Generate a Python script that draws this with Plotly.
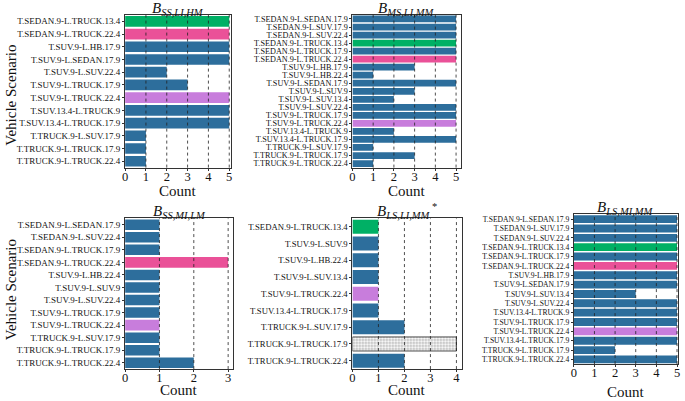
import plotly.graph_objects as go

# ---------------- data ----------------
p1_labels = ["T.SEDAN.9-L.TRUCK.13.4", "T.SEDAN.9-L.TRUCK.22.4", "T.SUV.9-L.HB.17.9",
             "T.SUV.9-L.SEDAN.17.9", "T.SUV.9-L.SUV.22.4", "T.SUV.9-L.TRUCK.17.9",
             "T.SUV.9-L.TRUCK.22.4", "T.SUV.13.4-L.TRUCK.9", "T.SUV.13.4-L.TRUCK.17.9",
             "T.TRUCK.9-L.SUV.17.9", "T.TRUCK.9-L.TRUCK.17.9", "T.TRUCK.9-L.TRUCK.22.4"]
p1_counts = [5, 5, 5, 5, 2, 3, 5, 5, 5, 1, 1, 1]

p2_labels = ["T.SEDAN.9-L.SEDAN.17.9", "T.SEDAN.9-L.SUV.17.9", "T.SEDAN.9-L.SUV.22.4",
             "T.SEDAN.9-L.TRUCK.13.4", "T.SEDAN.9-L.TRUCK.17.9", "T.SEDAN.9-L.TRUCK.22.4",
             "T.SUV.9-L.HB.17.9", "T.SUV.9-L.HB.22.4", "T.SUV.9-L.SEDAN.17.9",
             "T.SUV.9-L.SUV.9", "T.SUV.9-L.SUV.13.4", "T.SUV.9-L.SUV.22.4",
             "T.SUV.9-L.TRUCK.17.9", "T.SUV.9-L.TRUCK.22.4", "T.SUV.13.4-L.TRUCK.9",
             "T.SUV.13.4-L.TRUCK.17.9", "T.TRUCK.9-L.SUV.17.9", "T.TRUCK.9-L.TRUCK.17.9",
             "T.TRUCK.9-L.TRUCK.22.4"]
p2_counts = [5, 5, 5, 5, 5, 5, 3, 1, 5, 3, 2, 5, 5, 5, 2, 5, 1, 3, 1]

p3_labels = ["T.SEDAN.9-L.SEDAN.17.9", "T.SEDAN.9-L.SUV.22.4", "T.SEDAN.9-L.TRUCK.17.9",
             "T.SEDAN.9-L.TRUCK.22.4", "T.SUV.9-L.HB.22.4", "T.SUV.9-L.SUV.9",
             "T.SUV.9-L.SUV.22.4", "T.SUV.9-L.TRUCK.17.9", "T.SUV.9-L.TRUCK.22.4",
             "T.TRUCK.9-L.SUV.17.9", "T.TRUCK.9-L.TRUCK.17.9", "T.TRUCK.9-L.TRUCK.22.4"]
p3_counts = [1, 1, 1, 3, 1, 1, 1, 1, 1, 1, 1, 2]

p4_labels = ["T.SEDAN.9-L.TRUCK.13.4", "T.SUV.9-L.SUV.9", "T.SUV.9-L.HB.22.4",
             "T.SUV.9-L.SUV.13.4", "T.SUV.9-L.TRUCK.22.4", "T.SUV.13.4-L.TRUCK.17.9",
             "T.TRUCK.9-L.SUV.17.9", "T.TRUCK.9-L.TRUCK.17.9", "T.TRUCK.9-L.TRUCK.22.4"]
p4_counts = [1, 1, 1, 1, 1, 1, 2, 4, 2]
p4_hatched = ["T.TRUCK.9-L.TRUCK.17.9"]

p5_labels = ["T.SEDAN.9-L.SEDAN.17.9", "T.SEDAN.9-L.SUV.17.9", "T.SEDAN.9-L.SUV.22.4",
             "T.SEDAN.9-L.TRUCK.13.4", "T.SEDAN.9-L.TRUCK.17.9", "T.SEDAN.9-L.TRUCK.22.4",
             "T.SUV.9-L.HB.17.9", "T.SUV.9-L.SEDAN.17.9", "T.SUV.9-L.SUV.13.4",
             "T.SUV.9-L.SUV.22.4", "T.SUV.13.4-L.TRUCK.9", "T.SUV.9-L.TRUCK.17.9",
             "T.SUV.9-L.TRUCK.22.4", "T.SUV.13.4-L.TRUCK.17.9", "T.TRUCK.9-L.TRUCK.17.9",
             "T.TRUCK.9-L.TRUCK.22.4"]
p5_counts = [5, 5, 5, 5, 5, 5, 5, 5, 3, 5, 5, 5, 5, 5, 2, 5]

titles = ["<i>B</i><sub><i>SS,LI,HM</i></sub>",
          "<i>B</i><sub><i>MS,LI,MM</i></sub>",
          "<i>B</i><sub><i>SS,MI,LM</i></sub>",
          "<i>B</i><sub><i>LS,LI,MM</i></sub><sup> *</sup>",
          "<i>B</i><sub><i>LS,MI,MM</i></sub>"]
x_ticks = [[0, 1, 2, 3, 4, 5], [0, 1, 2, 3, 4, 5], [0, 1, 2, 3], [0, 1, 2, 3, 4], [0, 1, 2, 3, 4, 5]]
x_title = "Count"
y_title = "Vehicle Scenario"

# ---------------- style ----------------
BLUE = "#2d6e9c"
HIGHLIGHT = {"T.SEDAN.9-L.TRUCK.13.4": "#00b065",
             "T.SEDAN.9-L.TRUCK.22.4": "#ea5198",
             "T.SUV.9-L.TRUCK.22.4": "#c87ddc"}
FONT = "Liberation Serif, Times New Roman, serif"

W, H = 685, 401
# panel boxes in pixels: (left, right, top, bottom)
boxes = [(123, 230, 15, 168), (352, 461, 15, 168), (123, 232, 219, 370),
         (352, 462, 219, 370), (575, 680, 215, 365)]
xmax = [5.1, 5.22, 3.15, 4.2, 5.05]
ytick_size = [9, 8.2, 9, 8.7, 7.6]
count_y = [191, 191, 391, 391, 393]

panels = [(p1_labels, p1_counts, []), (p2_labels, p2_counts, []), (p3_labels, p3_counts, []),
          (p4_labels, p4_counts, p4_hatched), (p5_labels, p5_counts, [])]

fig = go.Figure()
shapes = []
annotations = []
for i, ((labels, counts, hatched), (l, r, t, b)) in enumerate(zip(panels, boxes)):
    k = "" if i == 0 else str(i + 1)
    colors = ["white" if lab in hatched else HIGHLIGHT.get(lab, BLUE) for lab in labels]
    shapes_p = ["." if lab in hatched else "" for lab in labels]
    lw = [0.8 if lab in hatched else 0 for lab in labels]
    fig.add_trace(go.Bar(
        x=counts, y=labels, orientation="h",
        xaxis="x" + k, yaxis="y" + k,
        marker=dict(color=colors,
                    line=dict(color="#222", width=lw),
                    pattern=dict(shape=shapes_p, fgcolor="#666", bgcolor="white",
                                 size=3, solidity=0.4)),
        showlegend=False, hoverinfo="skip"))
    xd = [l / W, r / W]
    yd = [1 - b / H, 1 - t / H]
    fig.layout["xaxis" + k] = dict(
        domain=xd, anchor="y" + k, range=[0, xmax[i]], tickmode="array",
        tickvals=x_ticks[i], ticktext=[str(v) for v in x_ticks[i]],
        showgrid=False, zeroline=False, showline=True, mirror=True, linecolor="#333",
        linewidth=1, ticks="outside", ticklen=2, tickcolor="#333", ticklabelstandoff=-5,
        tickfont=dict(family=FONT, size=12.5, color="#111"))
    fig.layout["yaxis" + k] = dict(
        domain=yd, anchor="x" + k, type="category", categoryorder="array",
        categoryarray=labels, range=[len(labels) - 0.5, -0.5],
        tickmode="array", tickvals=labels, ticktext=labels,
        showgrid=False, zeroline=False, showline=True, mirror=True, linecolor="#333",
        linewidth=1, ticks="outside", ticklen=2, tickcolor="#333",
        tickfont=dict(family=FONT, size=ytick_size[i], color="#111"))
    # dotted vertical grid lines drawn on top of bars
    for tv in x_ticks[i][1:]:
        shapes.append(dict(type="line", xref="x" + k, yref="y" + k + " domain",
                           x0=tv, x1=tv, y0=0, y1=1, layer="above",
                           line=dict(color="#222", width=0.8, dash="dot")))
    annotations.append(dict(text=titles[i], xref="paper", yref="paper",
                            x=(l + r) / 2 / W, y=1 - (t + 5) / H, yanchor="bottom",
                            xanchor="center", showarrow=False,
                            font=dict(family=FONT, size=15, color="#111")))
    annotations.append(dict(text=x_title, xref="paper", yref="paper",
                            x=(l + r) / 2 / W, y=1 - count_y[i] / H, yanchor="middle",
                            xanchor="center", showarrow=False,
                            font=dict(family=FONT, size=15, color="#111")))

for yc in [95, 290]:
    annotations.append(dict(text=y_title, xref="paper", yref="paper",
                            x=8 / W, y=1 - yc / H, textangle=-90, showarrow=False,
                            xanchor="center", yanchor="middle",
                            font=dict(family=FONT, size=15, color="#111")))

fig.update_layout(width=W, height=H, margin=dict(l=0, r=0, t=0, b=0),
                  paper_bgcolor="white", plot_bgcolor="white", bargap=0.16,
                  shapes=shapes, annotations=annotations,
                  font=dict(family=FONT, color="#111"))

fig.write_html("out.html", config={"displayModeBar": False},
               post_script="document.body.style.margin='0';")
